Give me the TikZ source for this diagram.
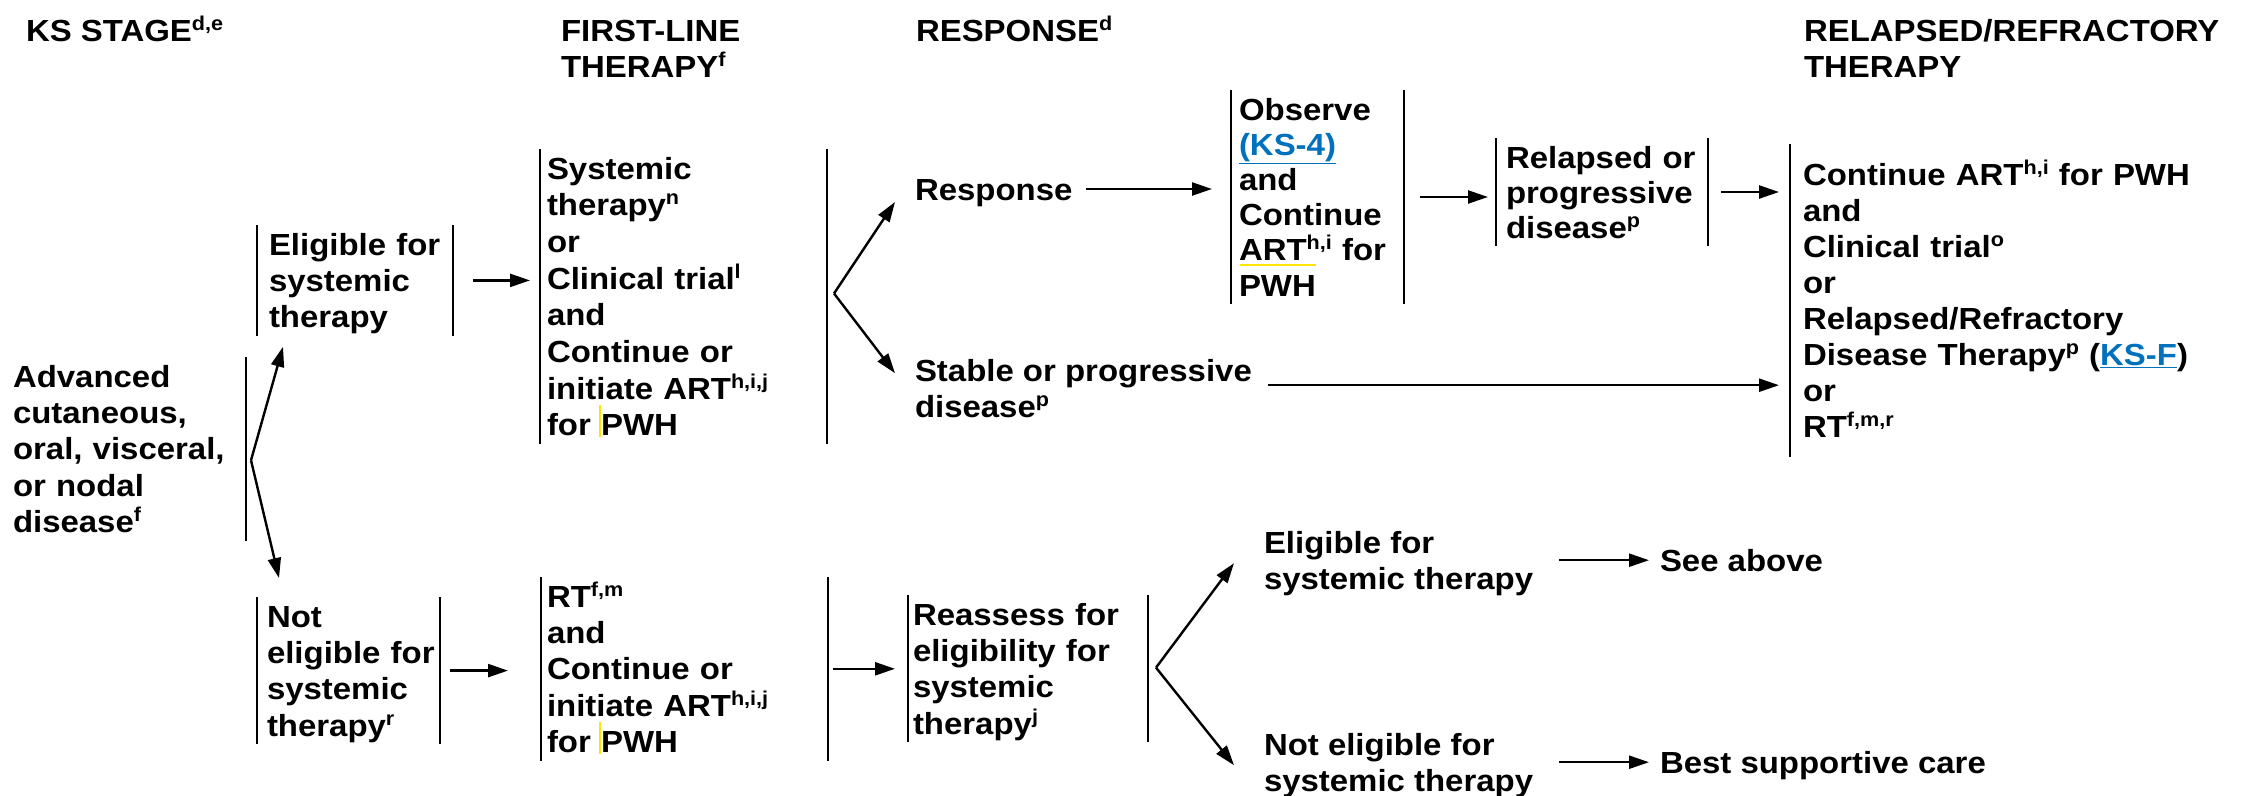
\documentclass[tikz,border=0pt]{standalone}
\usepackage{fontspec}
\setmainfont{Liberation Sans}[FakeStretch=1.08]
\usetikzlibrary{arrows.meta,calc}
\definecolor{linkblue}{RGB}{0,113,188}
\definecolor{hlyellow}{RGB}{255,228,0}
\newcommand\ts{\rule{0pt}{30pt}}
\newcommand\bs{\rule[-8pt]{0pt}{8pt}}
\newcommand\sps[1]{\raisebox{11pt}{\fontsize{20}{20}\selectfont #1}}
\newcommand\lnk[1]{\textcolor{linkblue}{\underline{#1}}}
\begin{document}
\begin{tikzpicture}[x=1pt,y=-1pt,
  every node/.style={inner sep=0pt, outer sep=0pt, anchor=north west, align=left,
     font=\fontsize{30.5}{36.4}\selectfont\bfseries},
  barline/.style={line width=2.2pt, draw=black},
  arr/.style={line width=2.4pt, -{Triangle[length=20pt,width=13pt]}},
  bars/.style={append after command={(\tikzlastnode.north west) edge[barline] (\tikzlastnode.south west)
      (\tikzlastnode.north east) edge[barline] (\tikzlastnode.south east)}},
  lbar/.style={append after command={(\tikzlastnode.north west) edge[barline] (\tikzlastnode.south west)}},
  rbar/.style={append after command={(\tikzlastnode.north east) edge[barline] (\tikzlastnode.south east)}},
  hl/.style={draw=hlyellow, line width=1.5pt}
]
\useasboundingbox (0,0) rectangle (2267,795);
\fill[white] (0,0) rectangle (2267,795);

% headers
\node (hks) at (26,11) {\ts KS~STAGE\sps{d,e}\bs};
\node (hfirst) at (561,11) {\ts FIRST-LINE\\THERAPY\sps{f}\bs};
\node (hresp) at (916,11) {\ts RESPONSE\sps{d}\bs};
\node (hrel) at (1804,11) {\ts RELAPSED/REFRACTORY\\THERAPY\bs};

% boxes
\node[rbar, inner xsep=13pt, text width=220pt, minimum height=175pt] (adv) at (0,357)
  {\ts Advanced\\cutaneous,\\oral,~visceral,\\or~nodal\\disease\sps{f}\bs};
\node[bars, inner xsep=12pt, text width=172pt, minimum height=97pt] (elig) at (257,225)
  {\ts Eligible~for\\systemic\\therapy\bs};
\node[bars, inner xsep=7pt, text width=273pt, minimum height=284pt,
      font=\fontsize{30.5}{36.7}\selectfont\bfseries] (first) at (540,149)
  {\ts Systemic\\therapy\sps{n}\\or\\Clinical~trial\sps{l}\\and\\Continue~or\\initiate~ART\sps{h,i,j}\\for~PWH\bs};
\node[bars, inner xsep=10pt, text width=163pt, minimum height=136pt] (noteli) at (257,597)
  {\ts Not\\eligible~for\\systemic\\therapy\sps{r}\bs};
\node[bars, inner xsep=6pt, text width=275pt, minimum height=175pt] (rt) at (541,577)
  {\ts RT\sps{f,m}\\and\\Continue~or\\initiate~ART\sps{h,i,j}\\for~PWH\bs};
\node[bars, inner xsep=5pt, text width=230pt, minimum height=138pt] (reass) at (908,595)
  {\ts Reassess~for\\eligibility~for\\systemic\\therapy\sps{j}\bs};
\node (resp) at (915,170) {\ts Response\bs};
\node (stable) at (915,351) {\ts Stable~or~progressive\\disease\sps{p}\bs};
\node[bars, inner xsep=8pt, text width=157pt, minimum height=198pt,
      font=\fontsize{30.5}{35.2}\selectfont\bfseries] (obs) at (1231,90)
  {\ts Observe\\\lnk{(KS-4)}\\and\\Continue\\ART\sps{h,i}~for\\PWH\bs};
\node[bars, inner xsep=10pt, text width=192pt, minimum height=102pt,
      font=\fontsize{30.5}{35}\selectfont\bfseries] (rel) at (1496,138)
  {\ts Relapsed~or\\progressive\\disease\sps{p}\bs};
\node[lbar, inner xsep=13pt, text width=440pt, minimum height=313pt,
      font=\fontsize{30.5}{36.1}\selectfont\bfseries] (rbox) at (1790,144)
  {\ts Continue~ART\sps{h,i}~for~PWH\\and\\Clinical~trial\sps{o}\\or\\Relapsed/Refractory\\Disease~Therapy\sps{p}~(\lnk{KS-F})\\or\\RT\sps{f,m,r}\bs};
\node (elig2) at (1264,523) {\ts Eligible~for\\systemic~therapy\bs};
\node (noteli2) at (1264,725) {\ts Not~eligible~for\\systemic~therapy\bs};
\node (seeab) at (1660,541) {\ts See~above\bs};
\node (bsc) at (1660,743) {\ts Best~supportive~care\bs};

% highlight marks
\draw[hl] (600,405) -- (600,437);
\draw[hl] (600,722) -- (600,754);
\draw[hl] (1240,265) -- (1316,265);

% split from stage
\coordinate (s1) at ($(adv.east)+(5,11.5)$);
\draw[arr] (s1) -- ($(elig.south west)+(26,11)$);
\draw[arr] (s1) -- ($(noteli.north west)+(22,-19)$);

% split from first-line
\coordinate (s2) at ($(first.east)+(7,-3)$);
\draw[arr] (s2) -- ($(resp.west)+(-20,13)$);
\draw[arr] (s2) -- ($(stable.west)+(-20,-15)$);

% split from reassess
\coordinate (s3) at ($(reass.east)+(8,-1)$);
\draw[arr] (s3) -- ($(elig2.west)+(-30,3)$);
\draw[arr] (s3) -- ($(noteli2.west)+(-30,3)$);

% horizontal arrows
\draw[arr, shorten <=20pt, shorten >=10pt] (elig.east) -- (elig.east -| first.west);
\draw[arr, shorten <=10pt, shorten >=33pt] (noteli.east) -- (noteli.east -| rt.west);
\draw[arr, shorten <=5pt, shorten >=13pt] (rt.east) -- (rt.east -| reass.west);
\draw[arr, shorten <=14pt, shorten >=19pt] (resp.east) -- (resp.east -| obs.west);
\draw[arr, shorten <=16pt, shorten >=8pt] (obs.east) -- (obs.east -| rel.west);
\draw[arr, shorten <=13pt, shorten >=11pt] (rel.east) -- (rel.east -| rbox.west);
\draw[arr, shorten <=16pt, shorten >=11pt] ($(stable.east)+(0,-3)$) -- ($(stable.east -| rbox.west)+(0,-3)$);
\draw[arr, shorten <=26pt, shorten >=11pt] (elig2.east) -- (elig2.east -| seeab.west);
\draw[arr, shorten <=26pt, shorten >=11pt] (noteli2.east) -- (noteli2.east -| bsc.west);
\end{tikzpicture}
\end{document}
